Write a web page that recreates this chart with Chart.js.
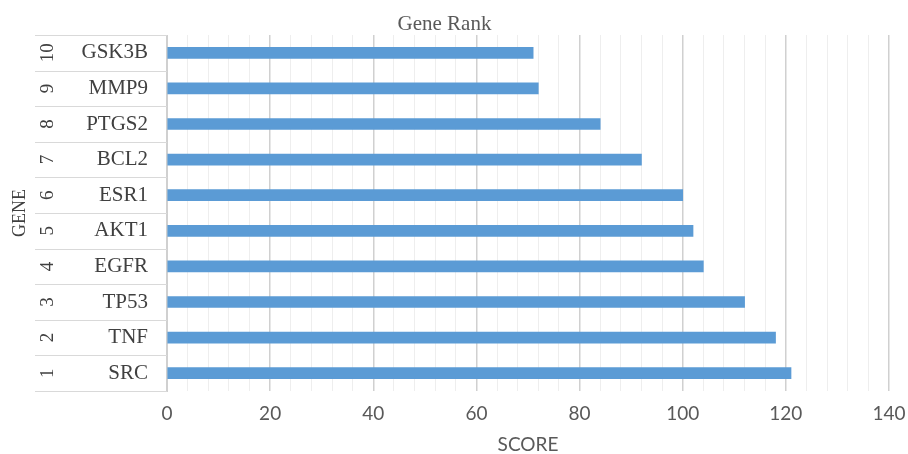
<!DOCTYPE html>
<html>
<head>
<meta charset="utf-8">
<script src="https://cdn.jsdelivr.net/npm/chart.js@4/dist/chart.umd.min.js"></script>
<style>
html,body{margin:0;padding:0;background:#fff;}
#wrap{width:908px;height:454px;}
</style>
</head>
<body>
<div id="wrap"><canvas id="c" width="908" height="454"></canvas></div>
<script>
const ranks = ["1","2","3","4","5","6","7","8","9","10"];
const genes = ["SRC","TNF","TP53","EGFR","AKT1","ESR1","BCL2","PTGS2","MMP9","GSK3B"];
const scores = [121,118,112,104,102,100,92,84,72,71];
const xTickLabels = [0,20,40,60,80,100,120,140];

const tablePlugin = {
  id: 'tablePlugin',
  afterDraw(chart) {
    const ctx = chart.ctx;
    const ys = chart.scales.y;
    const area = chart.chartArea;
    const n = genes.length;
    const step = (area.bottom - area.top) / n;
    ctx.save();
    ctx.strokeStyle = '#d9d9d9';
    ctx.lineWidth = 1;
    for (let i = 0; i <= n; i++) {
      const y = Math.round(area.top + i * step) + 0.5;
      ctx.beginPath();
      ctx.moveTo(35, y);
      ctx.lineTo(area.left, y);
      ctx.stroke();
    }
    ctx.fillStyle = '#404040';
    ctx.font = '19px "Liberation Serif", serif';
    ctx.textAlign = 'center';
    ctx.textBaseline = 'middle';
    ranks.forEach((r, i) => {
      const y = ys.getPixelForValue(i);
      ctx.save();
      ctx.translate(48, y);
      ctx.rotate(-Math.PI / 2);
      ctx.fillText(r, 0, 0);
      ctx.restore();
    });
    ctx.restore();
  }
};

new Chart(document.getElementById('c'), {
  type: 'bar',
  data: {
    labels: genes,
    datasets: [{
      data: scores,
      backgroundColor: '#5b9bd5',
      borderWidth: 0,
      barThickness: 11
    }]
  },
  options: {
    indexAxis: 'y',
    responsive: false,
    animation: false,
    devicePixelRatio: 1,
    layout: { padding: { left: 0, right: 19, top: 0, bottom: 0 } },
    plugins: {
      legend: { display: false },
      tooltip: { enabled: false },
      title: {
        display: true,
        text: 'Gene Rank',
        color: '#595959',
        font: { family: '"Liberation Serif", serif', size: 21, weight: 'normal', lineHeight: 1 },
        padding: { top: 14, bottom: 0 }
      }
    },
    scales: {
      x: {
        type: 'linear',
        min: 0,
        max: 140,
        afterFit(scale) { scale.height = 63; scale.paddingRight = 0; scale.paddingLeft = 0; },
        border: { display: false },
        grid: {
          drawTicks: false,
          color(ctx) {
            return (ctx.tick && xTickLabels.includes(ctx.tick.value)) ? '#d0d0d0' : '#eeeeee';
          },
          lineWidth(ctx) {
            return (ctx.tick && xTickLabels.includes(ctx.tick.value)) ? 1.5 : 1;
          }
        },
        ticks: {
          stepSize: 4,
          autoSkip: false,
          maxRotation: 0,
          padding: 11,
          color: '#595959',
          font: { family: 'Lato, sans-serif', size: 19 },
          callback(v) { return xTickLabels.includes(v) ? String(v) : ''; }
        },
        title: {
          display: true,
          text: 'SCORE',
          color: '#595959',
          font: { family: 'Lato, sans-serif', size: 19, lineHeight: 1 },
          padding: { top: 0, bottom: 0 }
        }
      },
      y: {
        type: 'category',
        reverse: true,
        afterFit(scale) { scale.width = 167; scale.paddingTop = 0; scale.paddingBottom = 0; },
        border: { display: true, color: '#d0d0d0' },
        grid: { display: false, drawTicks: false },
        ticks: {
          padding: 19,
          color: '#404040',
          font: { family: '"Liberation Serif", serif', size: 21 }
        },
        title: {
          display: true,
          text: 'GENE',
          color: '#404040',
          font: { family: '"Liberation Serif", serif', size: 18, lineHeight: 1 },
          padding: { top: 11, bottom: 0 }
        }
      }
    }
  },
  plugins: [tablePlugin]
});
</script>
</body>
</html>
